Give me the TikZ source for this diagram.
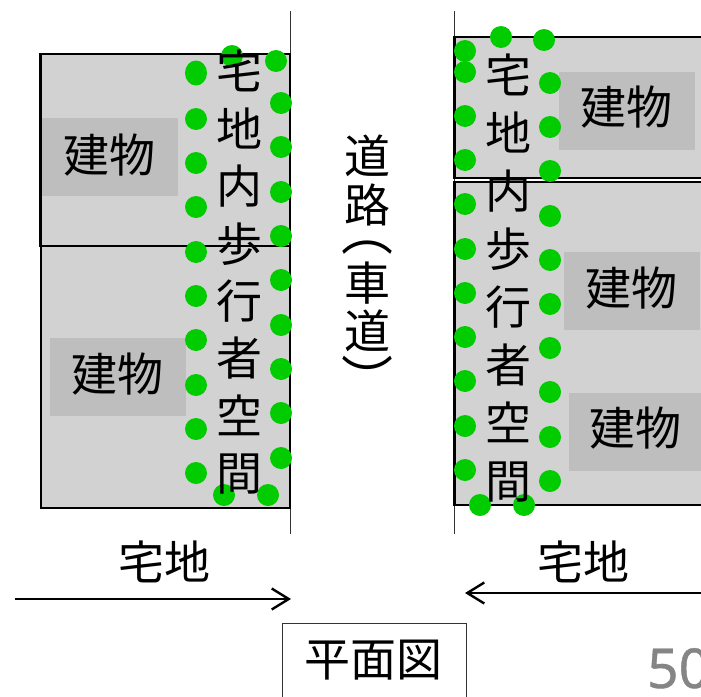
\documentclass[tikz,border=0pt]{standalone}
\usepackage{fontspec}
\usetikzlibrary{arrows.meta}
\newfontfamily\cjk{Noto Sans CJK JP}
\newfontfamily\numfont[FakeBold=0.7]{Noto Sans}
\setmainfont{Noto Sans}
\definecolor{lot}{HTML}{D2D2D2}
\definecolor{bldg}{HTML}{BEBEBE}
\definecolor{walk}{HTML}{00CC00}
\definecolor{pagenum}{HTML}{858585}
\tikzset{
  lotbox/.style={draw=black,line width=2.3pt,fill=lot},
  roadline/.style={draw=black!80,line width=1pt},
  bldgbox/.style={fill=bldg,draw=none,minimum width=136pt,minimum height=78pt,inner sep=0pt,anchor=north west},
  jlabel/.style={font=\cjk\fontsize{46}{50}\selectfont,inner sep=0pt},
  stacklabel/.style={font=\cjk\fontsize{46}{57.4}\selectfont,align=center,inner sep=0pt},
  stacklabelr/.style={font=\cjk\fontsize{46}{58}\selectfont,align=center,inner sep=0pt},
  sidearrow/.style={draw=black,line width=2.4pt,-{Straight Barb[length=17pt,width=21pt,line width=2.4pt]}},
  dot/.style={fill=walk,draw=none}
}
\begin{document}
\begin{tikzpicture}[x=1pt,y=-1pt]
\useasboundingbox (0,0) rectangle (701,696);
\clip (0,0) rectangle (701,696);
% road edges
\draw[roadline] (290.3,11) -- (290.3,534);
\draw[roadline] (454.5,11) -- (454.5,534);
% lots
\draw[lotbox] (40.5,54) rectangle (290,246);
\draw[lotbox] (41,246) rectangle (290,508);
\draw[lotbox] (454.5,37) rectangle (720,178);
\draw[lotbox] (454.5,182) rectangle (720,505);
% buildings
\node[bldgbox] (b1) at (42,118) {};
\node[bldgbox] (b2) at (50,338) {};
\node[bldgbox] (b3) at (559,72) {};
\node[bldgbox] (b4) at (564,252) {};
\node[bldgbox] (b5) at (569,393) {};
\node[jlabel] (l1) at (109,155) {建物};
\node[jlabel] (l2) at (117,374) {建物};
\node[jlabel] (l3) at (626,107) {建物};
\node[jlabel] (l4) at (631,288) {建物};
\node[jlabel] (l5) at (635,428) {建物};
% walkway dots, left side
\fill[dot] (196,73) ellipse (11 and 12.5);
\foreach \y in {119,163,207,252,296,340,385,429,473}
  \fill[dot] (196,\y) circle (11);
\fill[dot] (232,56) circle (11);
\fill[dot] (276,61) circle (11);
\foreach \y in {103,147,192,236,280,325,369,413,458}
  \fill[dot] (281,\y) circle (11);
\fill[dot] (224,495) circle (11);
\fill[dot] (268,495) circle (11);
% walkway dots, right side
\foreach \y in {51,72,116,160,204,249,293,337,381,426,470}
  \fill[dot] (465,\y) circle (11);
\fill[dot] (501,37) circle (11);
\fill[dot] (544,40) circle (11);
\foreach \y in {83,127,171,216,260,304,348,392,437,481}
  \fill[dot] (550,\y) circle (11);
\fill[dot] (480,505) circle (11);
\fill[dot] (524,505) circle (11);
% stacked labels
\node[stacklabel,anchor=north] (sl) at (239,50) {宅\\地\\内\\歩\\行\\者\\空\\間};
\node[stacklabelr,anchor=north] (sr) at (508,54) {宅\\地\\内\\歩\\行\\者\\空\\間};
% road label
\node[jlabel] (r1) at (367,156) {道};
\node[jlabel] (r2) at (367,205) {路};
\node[jlabel,font=\cjk\fontsize{52}{50}\selectfont] (r3) at (367,248) {︵};
\node[jlabel] (r4) at (367,283) {車};
\node[jlabel] (r5) at (367,331) {道};
\node[jlabel,font=\cjk\fontsize{52}{50}\selectfont] (r6) at (367,378) {︶};
% bottom labels and arrows
\node[jlabel] (t1) at (164,562) {宅地};
\node[jlabel] (t2) at (583,562) {宅地};
\coordinate (a1s) at (15,599);
\coordinate (a1e) at (291,599);
\coordinate (a2s) at (705,593);
\coordinate (a2e) at (465,593);
\draw[sidearrow] (a1s) -- (a1e);
\draw[sidearrow] (a2s) -- (a2e);
\node[draw=black!80,line width=1pt,fill=white,minimum width=184pt,minimum height=80pt,inner sep=0pt,anchor=north west] (box) at (281.5,623) {};
\node[jlabel] (boxt) at (373,660) {平面図};
\node[anchor=base west,inner sep=0pt,text=pagenum,font=\numfont\fontsize{55}{60}\selectfont] (pg) at (647,688) {50};
\end{tikzpicture}
\end{document}
